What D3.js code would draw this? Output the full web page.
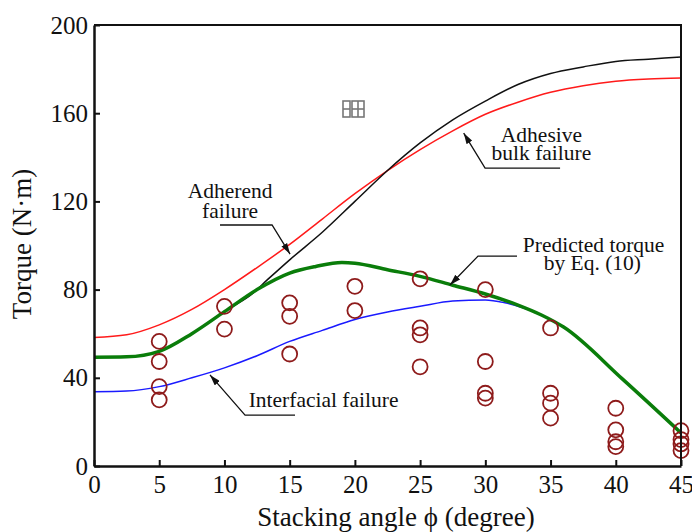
<!DOCTYPE html>
<html>
<head>
<meta charset="utf-8">
<script src="https://cdn.jsdelivr.net/npm/d3@7"></script>
<style>
  body { margin: 0; background: #fff; }
  svg text { font-family: "Liberation Serif", "Times New Roman", serif; fill: #111; }
</style>
</head>
<body>
<svg id="chart" width="692" height="532"></svg>
<script>
// stacking angle (deg) vs torque (N·m)
const xTicks = [0, 5, 10, 15, 20, 25, 30, 35, 40, 45];
const yTicks = [0, 40, 80, 120, 160, 200];

const adherend = [[0,58.3],[2.5,59.5],[5,64],[7.5,71],[10,80],[12.5,90],[15,100.5],[17.5,112],[20,123.5],
  [22.5,134],[25,143.5],[27.5,152],[30,159.5],[32.5,165],[35,169.5],[37.5,172.5],[40,174.5],[42.5,175.5],[45,176]];
const adhesiveBulk = [[10.5,72],[12,77.5],[13.3,84.5],[15,93.5],[17.5,106],[20,120],[22.5,134],[25,146.5],
  [27.5,157],[30,165.5],[32.5,173],[35,178],[37.5,181],[40,183.5],[42.5,184.5],[45,185.5]];
const interfacial = [[0,33.7],[2.5,34],[5,36],[7.5,40],[10,44.5],[12.5,50],[15,56.5],[17.5,61.5],[20,66.4],
  [22.5,69.8],[25,72.4],[27.5,74.8],[30,75.3],[31.5,74],[33,71.5],[34.5,68]];
const predicted = [[0,49.3],[2.5,49.5],[5,52],[7.5,60],[10,70],[12.5,80],[15,87.5],[17,90.5],[19,92.3],[20,92],
  [22.5,89],[25,86],[27.5,82],[30,78],[32.5,73],[34.3,68.5],[36,63],[40.5,39.5],[45,15]];

const expAngle  = [5,5,5,5, 10,10, 15,15,15, 20,20, 25,25,25,25, 30,30,30,30, 35,35,35,35, 40,40,40,40, 45,45,45,45];
const expTorque = [56.5,47.4,36,30, 72.4,62.1, 74,67.9,50.8, 81.5,70.5, 84.9,62.6,59.5,45, 80,47.4,33,30.8,
  62.6,33,28.5,21.7, 26.2,16.4,11,8.8, 16,12,10,7];

const svg = d3.select("#chart");
const x = d3.scaleLinear().domain([0, 45]).range([94, 681]);
const y = d3.scaleLinear().domain([0, 200]).range([466, 25]);

// markers
svg.append("defs").append("marker")
  .attr("id", "arr").attr("markerUnits", "userSpaceOnUse")
  .attr("viewBox", "0 0 10 6").attr("refX", 10).attr("refY", 3)
  .attr("markerWidth", 11).attr("markerHeight", 7).attr("orient", "auto")
  .append("path").attr("d", "M0,0L10,3L0,6Z").attr("fill", "#111");

const line = d3.line().x(d => x(d[0])).y(d => y(d[1])).curve(d3.curveMonotoneX);

svg.append("path").datum(adherend).attr("d", line)
  .attr("fill", "none").attr("stroke", "#ff1a1a").attr("stroke-width", 1.5);
svg.append("path").datum(adhesiveBulk).attr("d", line)
  .attr("fill", "none").attr("stroke", "#111").attr("stroke-width", 1.5);
svg.append("path").datum(interfacial).attr("d", line)
  .attr("fill", "none").attr("stroke", "#1a1aff").attr("stroke-width", 1.5);
svg.append("path").datum(predicted).attr("d", line)
  .attr("fill", "none").attr("stroke", "#0a7d0a").attr("stroke-width", 3.5);

svg.append("g").selectAll("circle").data(expAngle).join("circle")
  .attr("cx", d => x(d)).attr("cy", (d, i) => y(expTorque[i])).attr("r", 7.5)
  .attr("fill", "none").attr("stroke", "#8e1b1b").attr("stroke-width", 1.8);

// axes
const gx = svg.append("g").attr("transform", `translate(0,${y(0)})`)
  .call(d3.axisBottom(x).tickValues(xTicks).tickSizeInner(-6).tickSizeOuter(0).tickPadding(9));
const gy = svg.append("g").attr("transform", `translate(${x(0)},0)`)
  .call(d3.axisLeft(y).tickValues(yTicks).tickSizeInner(-6).tickSizeOuter(0).tickPadding(6));
[gx, gy].forEach(g => {
  g.select(".domain").attr("stroke", "#111").attr("stroke-width", 2.5);
  g.selectAll(".tick line").attr("stroke", "#111").attr("stroke-width", 2);
  g.selectAll(".tick text").attr("font-size", 25).attr("font-family", "Liberation Serif").attr("fill", "#111");
});
// frame top/right
svg.append("path")
  .attr("d", `M${x(0)},${y(200)}H${x(45)}V${y(0)}`)
  .attr("fill", "none").attr("stroke", "#111").attr("stroke-width", 2);

// axis titles
svg.append("text").attr("x", 396).attr("y", 526).attr("text-anchor", "middle")
  .attr("font-size", 27).text("Stacking angle ϕ (degree)");
svg.append("text").attr("transform", "translate(31,244) rotate(-90)").attr("text-anchor", "middle")
  .attr("font-size", 27).text("Torque (N·m)");

// annotations (data coords)
const notes = [
  { pts: [[35.73,135.1],[29.98,135.1],[28.34,151.0]], lines: [["Adhesive",34.3,146.9],["bulk failure",34.3,138.8]] },
  { pts: [[9.66,109.3],[13.65,109.3],[15.03,96.1]], lines: [["Adherend",10.43,121.5],["failure",10.43,112.5]] },
  { pts: [[32.43,95.2],[29.44,95.2],[27.29,82.1]], lines: [["Predicted torque",38.3,97.05],["by Eq. (10)",38.2,88.9]] },
  { pts: [[15.41,23.1],[11.58,23.1],[8.89,41.3]], lines: [["Interfacial failure",17.6,26.8]] }
];
notes.forEach(n => {
  svg.append("path").attr("d", d3.line().x(d => x(d[0])).y(d => y(d[1]))(n.pts))
    .attr("fill", "none").attr("stroke", "#111").attr("stroke-width", 1.3).attr("marker-end", "url(#arr)");
  n.lines.forEach(t => svg.append("text").attr("x", x(t[1])).attr("y", y(t[2]))
    .attr("text-anchor", "middle").attr("font-size", 21.5).text(t[0]));
});

// small table icon
const ic = svg.append("g").attr("fill", "none").attr("stroke", "#777").attr("stroke-width", 1.6);
ic.append("rect").attr("x", 343).attr("y", 101).attr("width", 7).attr("height", 16);
ic.append("line").attr("x1", 343).attr("x2", 350).attr("y1", 109).attr("y2", 109);
ic.append("rect").attr("x", 352).attr("y", 101).attr("width", 12).attr("height", 16);
ic.append("line").attr("x1", 352).attr("x2", 364).attr("y1", 109).attr("y2", 109);
ic.append("line").attr("x1", 358).attr("x2", 358).attr("y1", 101).attr("y2", 117);
</script>
</body>
</html>
